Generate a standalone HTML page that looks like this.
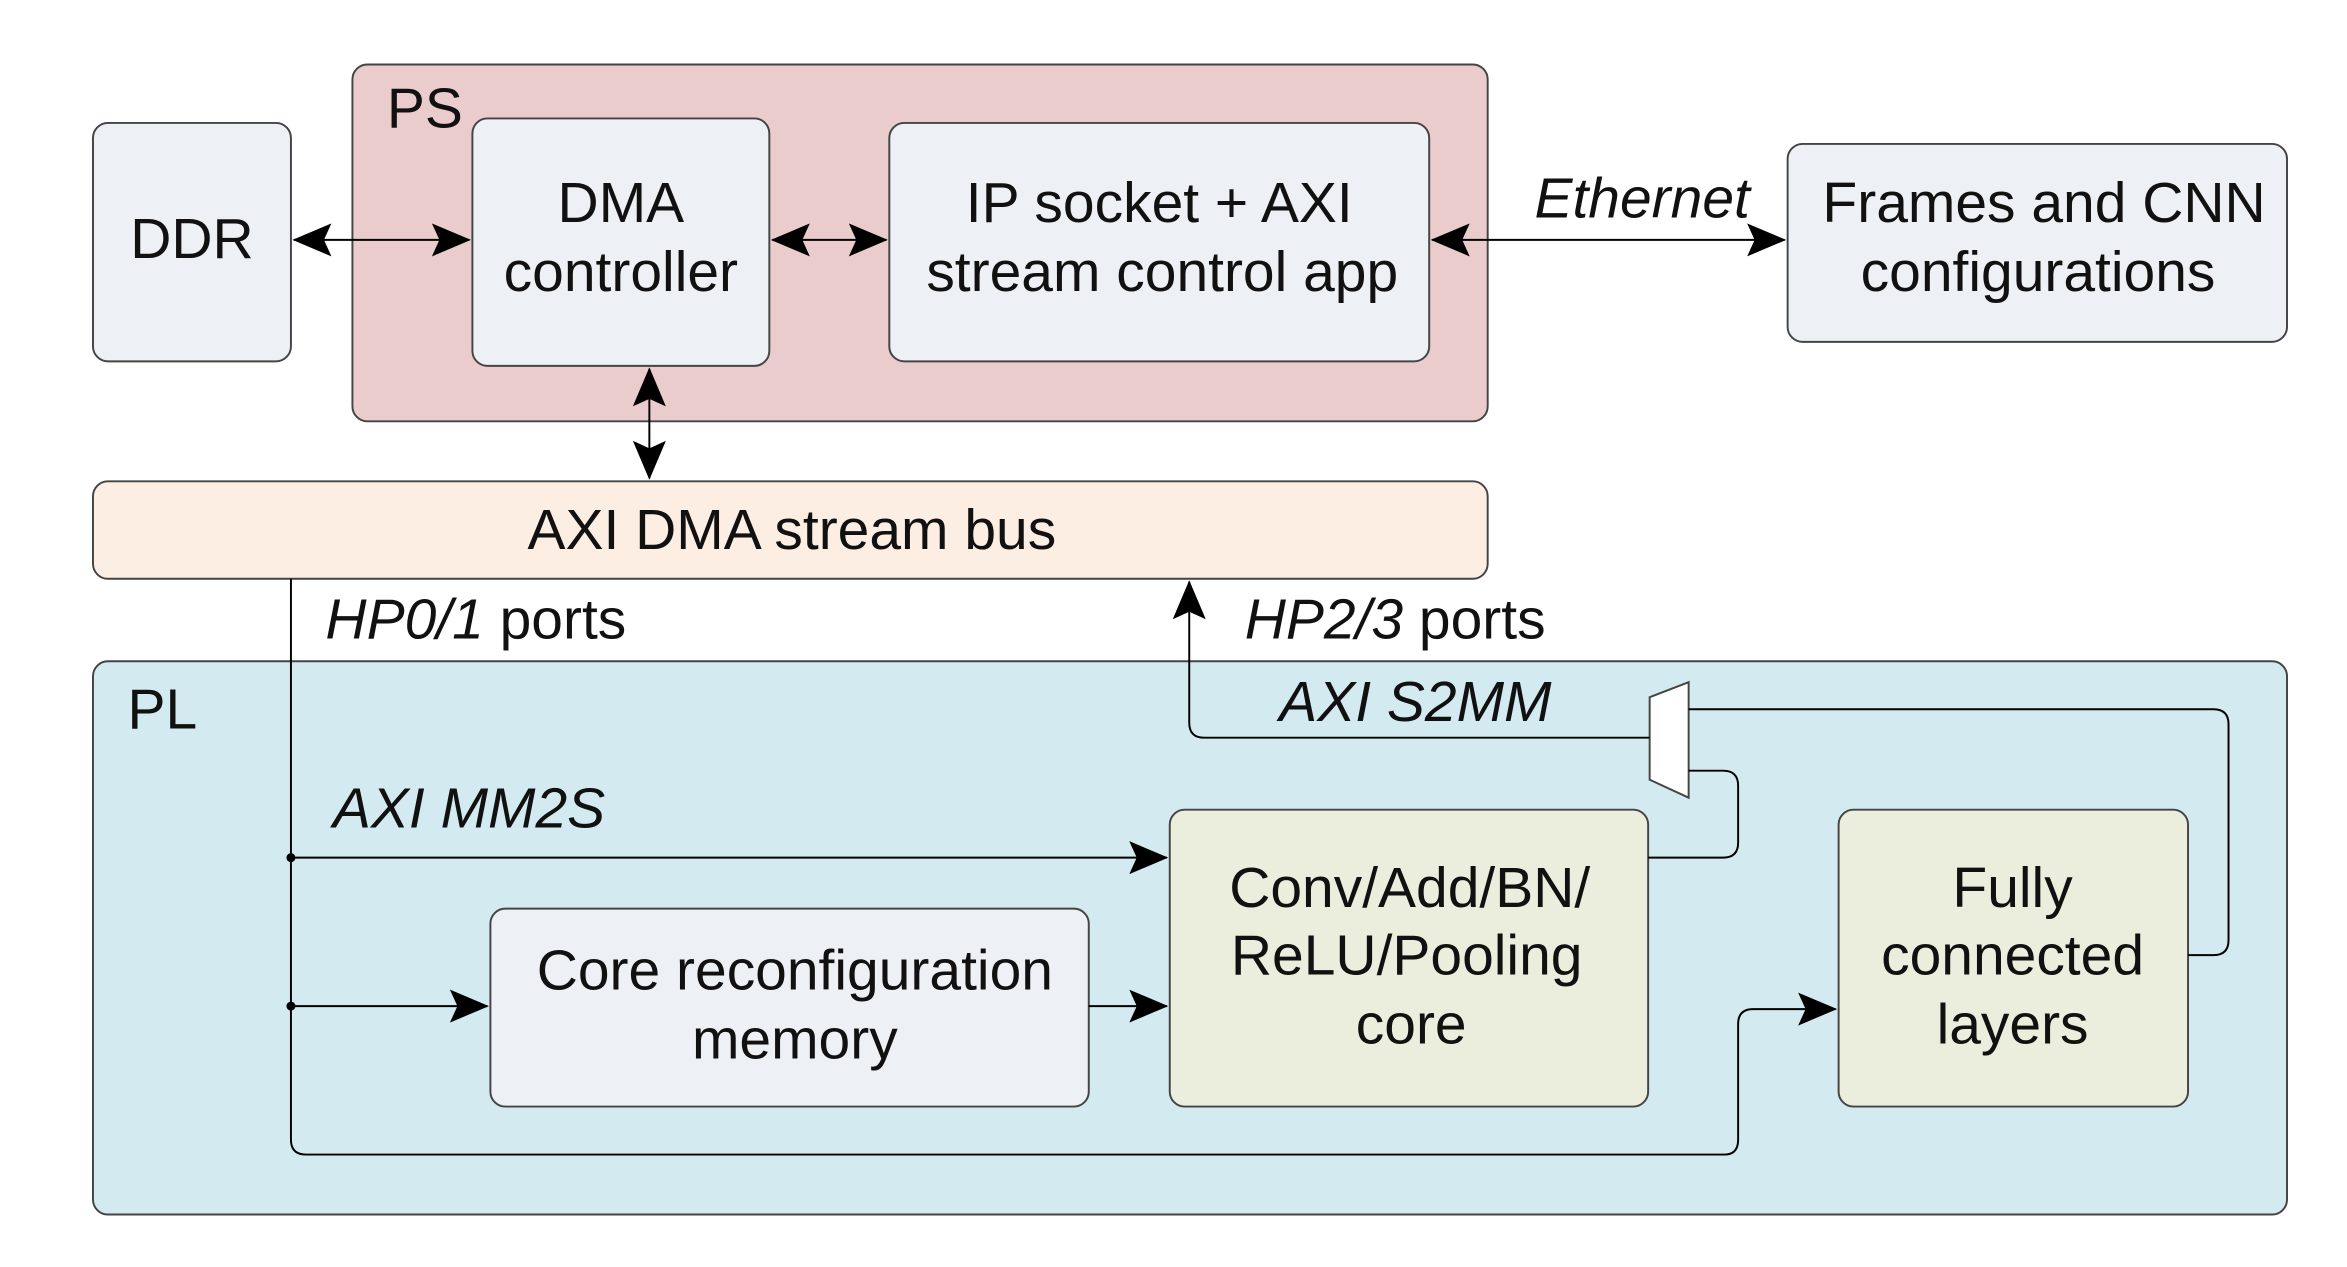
<!DOCTYPE html>
<html><head><meta charset="utf-8"><style>body{margin:0;background:#fff}svg{display:block}text{font-family:"Liberation Sans",sans-serif;font-size:38px;fill:#111}</style></head><body>
<svg width="2347" height="1267" viewBox="0 0 1565 845" preserveAspectRatio="none">
<defs>
<marker id="b" markerWidth="26" markerHeight="22" refX="25" refY="11" orient="auto-start-reverse" markerUnits="userSpaceOnUse"><path d="M0,0 L26,11 L0,22 L5,11 Z" fill="#000"/></marker></defs>
<g stroke="#444" stroke-width="1.3">
<rect x="235" y="43" width="757" height="238" rx="10" fill="#ebcccc"/>
<rect x="62" y="82" width="132" height="159" rx="10" fill="#edf0f5"/>
<rect x="315" y="79" width="198" height="165" rx="10" fill="#edf0f5"/>
<rect x="593" y="82" width="360" height="159" rx="10" fill="#edf0f5"/>
<rect x="1192" y="96" width="333" height="132" rx="10" fill="#edf0f5"/>
<rect x="62" y="321" width="930" height="65" rx="10" fill="#fdeee4"/>
<rect x="62" y="441" width="1463" height="369" rx="10" fill="#d3eaf0"/>
<rect x="327" y="606" width="399" height="132" rx="10" fill="#edf0f5"/>
<rect x="780" y="540" width="319" height="198" rx="10" fill="#ebeedc"/>
<rect x="1226" y="540" width="233" height="198" rx="10" fill="#ebeedc"/>
<path d="M1100,465 L1126,455 L1126,532 L1100,520 Z" fill="#fff"/>
</g>
<g stroke="#000" stroke-width="1.3" fill="none">
<line x1="196" y1="160" x2="313" y2="160" marker-start="url(#b)" marker-end="url(#b)"/>
<line x1="515" y1="160" x2="591" y2="160" marker-start="url(#b)" marker-end="url(#b)"/>
<line x1="955" y1="160" x2="1190" y2="160" marker-start="url(#b)" marker-end="url(#b)"/>
<line x1="433" y1="246" x2="433" y2="319" marker-start="url(#b)" marker-end="url(#b)"/>
<path d="M194,386 L194,760 Q194,770 204,770 L1150,770 Q1159,770 1159,760 L1159,683 Q1159,673 1169,673 L1224,673" marker-end="url(#b)"/>
<line x1="194" y1="572" x2="778" y2="572" marker-end="url(#b)"/>
<line x1="194" y1="671" x2="325" y2="671" marker-end="url(#b)"/>
<line x1="726" y1="671" x2="778" y2="671" marker-end="url(#b)"/>
<path d="M1099,572 L1149,572 Q1159,572 1159,562 L1159,524 Q1159,514 1149,514 L1126,514"/>
<path d="M1459,637 L1476,637 Q1486,637 1486,627 L1486,483 Q1486,473 1476,473 L1126,473"/>
<path d="M1100,492 L803,492 Q793,492 793,482 L793,388" marker-end="url(#b)"/>
</g>
<circle cx="194" cy="572" r="3" fill="#000"/><circle cx="194" cy="671" r="3" fill="#000"/>
<text x="258" y="85">PS</text>
<text x="85" y="486">PL</text>
<text x="128" y="172" text-anchor="middle">DDR</text>
<text x="414" y="148" text-anchor="middle">DMA</text>
<text x="414" y="194" text-anchor="middle">controller</text>
<text x="773" y="148" text-anchor="middle">IP socket + AXI</text>
<text x="775" y="194" text-anchor="middle">stream control app</text>
<text x="1363" y="148" text-anchor="middle">Frames and CNN</text>
<text x="1359" y="194" text-anchor="middle">configurations</text>
<text x="528" y="366" text-anchor="middle">AXI DMA stream bus</text>
<text x="530" y="660" text-anchor="middle">Core reconfiguration</text>
<text x="530" y="706" text-anchor="middle">memory</text>
<text x="940" y="605" text-anchor="middle">Conv/Add/BN/</text>
<text x="938" y="650" text-anchor="middle">ReLU/Pooling</text>
<text x="941" y="696" text-anchor="middle">core</text>
<text x="1342" y="605" text-anchor="middle">Fully</text>
<text x="1342" y="650" text-anchor="middle">connected</text>
<text x="1342" y="696" text-anchor="middle">layers</text>
<text x="1095" y="145" text-anchor="middle" font-style="italic">Ethernet</text>
<text x="217" y="426"><tspan font-style="italic">HP0/1</tspan> ports</text>
<text x="830" y="426"><tspan font-style="italic">HP2/3</tspan> ports</text>
<text x="853" y="481" font-style="italic">AXI S2MM</text>
<text x="222" y="552" font-style="italic">AXI MM2S</text>
</svg>
</body></html>
